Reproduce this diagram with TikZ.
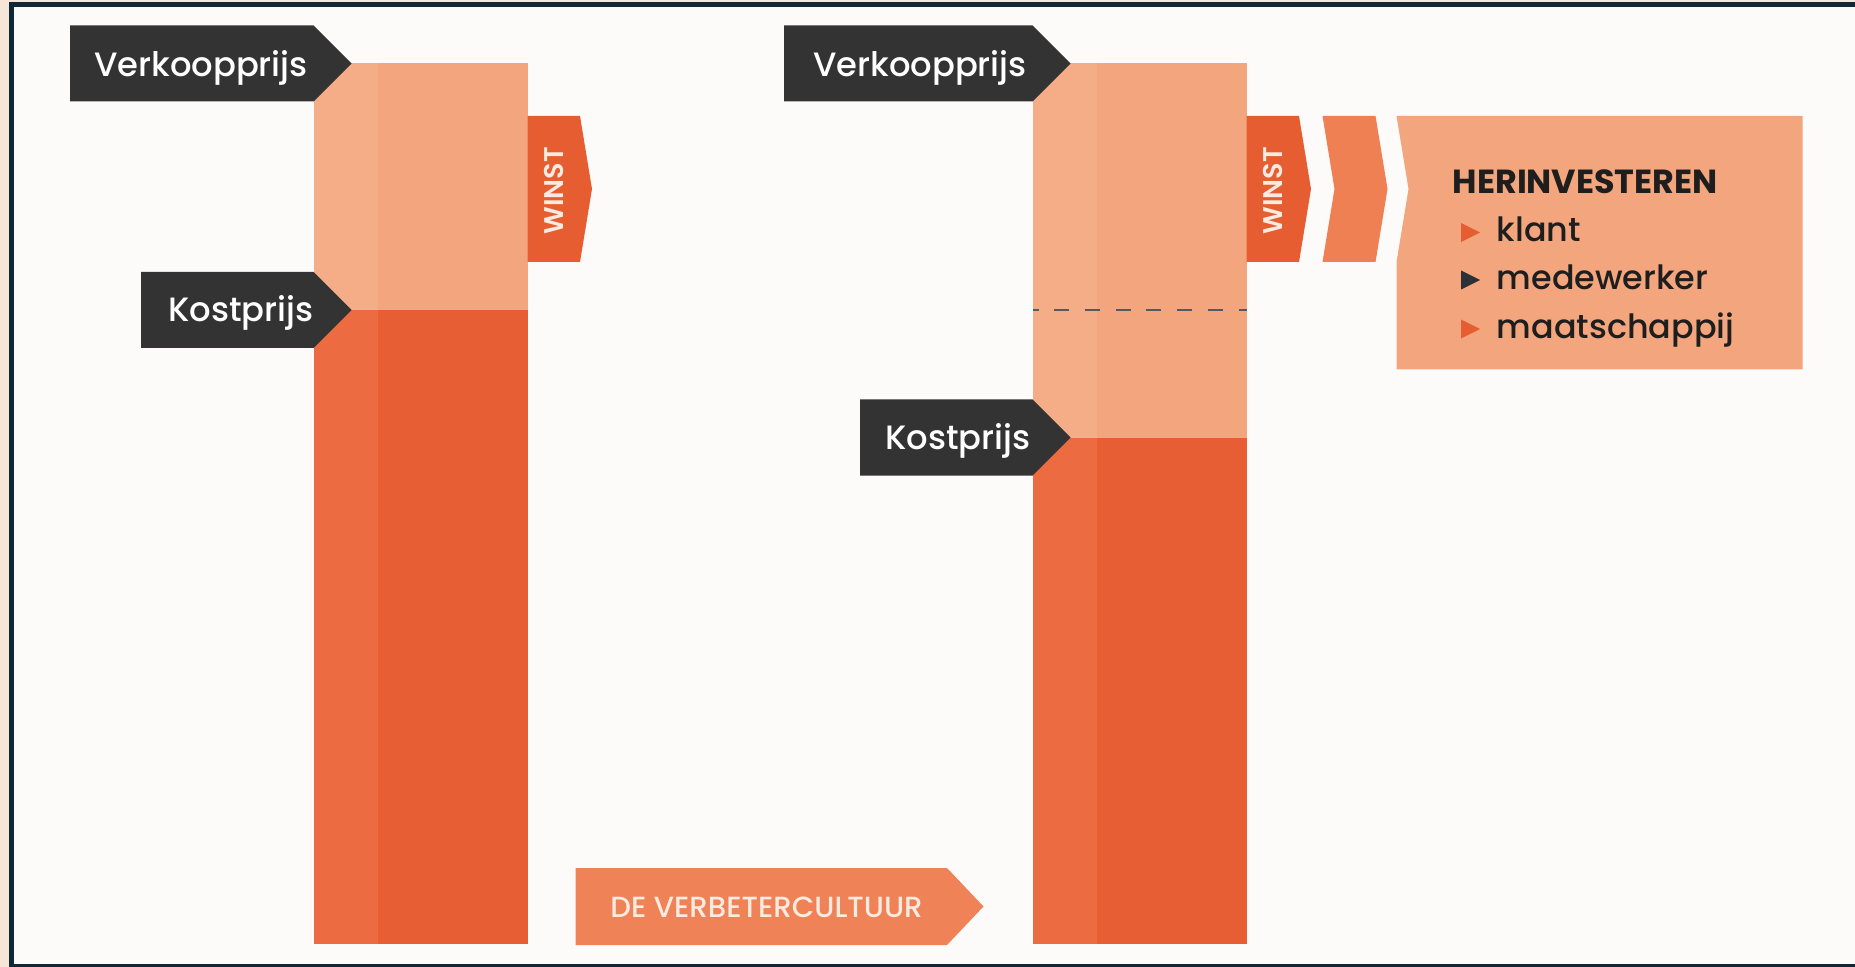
\documentclass[tikz,border=0pt]{standalone}
\usepackage{fontspec}
\setmainfont{Poppins}
\newfontfamily\popmed{Poppins Medium}
\newfontfamily\popsemi{Poppins SemiBold}
\newfontfamily\popbold{Poppins Bold}
\usetikzlibrary{calc}

\definecolor{buiten}{HTML}{F5E6D8}
\definecolor{binnen}{HTML}{FDFBF9}
\definecolor{kader}{HTML}{0E2838}
\definecolor{licht}{HTML}{F3A67D}
\definecolor{lichtstrook}{HTML}{F5AD88}
\definecolor{donker}{HTML}{E85E34}
\definecolor{donkerstrook}{HTML}{EC6B40}
\definecolor{winstrood}{HTML}{E65D32}
\definecolor{midden}{HTML}{EE8053}
\definecolor{pijlkleur}{HTML}{EF8256}
\definecolor{labelgrijs}{HTML}{333333}
\definecolor{tekstzwart}{HTML}{1E1E1E}
\definecolor{bulletgrijs}{HTML}{2D3035}
\definecolor{room}{HTML}{FBEADF}

\tikzset{
  prijstekst/.style={text=white, inner sep=0pt, anchor=base,
    font=\popmed\fontsize{9.6}{11}\selectfont},
  winsttekst/.style={text=room, inner sep=0pt, rotate=90,
    font=\popsemi\fontsize{7.7}{9}\selectfont},
  lijsttekst/.style={text=tekstzwart, inner sep=0pt, anchor=base west,
    font=\popmed\fontsize{9.5}{11}\selectfont},
}
% vlag: linker x, rechter x, midden y
\def\prijsvlag(#1:#2:#3){\fill[labelgrijs] (#1,#3-38) -- (#2,#3-38) -- (#2+38,#3) -- (#2,#3+38) -- (#1,#3+38) -- cycle;}
\def\bullet[#1](#2){\fill[#1] (1461,#2-9.5) -- (1480,#2) -- (1461,#2+9.5) -- cycle;}

\begin{document}
\begin{tikzpicture}[x=0.01cm, y=-0.01cm]
			%%%%% START %%%%%
			\useasboundingbox (0,0) rectangle (1855,967);
			\clip (0,0) rectangle (1855,967);
			
			\fill[buiten] (0,0) rectangle (1855,967);
			\draw[fill=binnen, draw=kader, line width=0.05cm] (11.5,5) rectangle (1880,966.5);
			
			% balk links
			\fill[licht] (313.5,63.5) rectangle (527.5,944);
			\fill[lichtstrook] (313.5,63.5) rectangle (377.5,310);
			\fill[donker] (313.5,310) rectangle (527.5,944);
			\fill[donkerstrook] (313.5,310) rectangle (377.5,944);
			
			% balk rechts
			\fill[licht] (1032.5,63.5) rectangle (1246.5,944);
			\fill[lichtstrook] (1032.5,63.5) rectangle (1096.5,437.5);
			\fill[donker] (1032.5,437.5) rectangle (1246.5,944);
			\fill[donkerstrook] (1032.5,437.5) rectangle (1096.5,944);
			\draw[color=black!65, line width=0.012cm, dash pattern=on 0.15cm off 0.157cm, dash phase=0.09cm] (1032.5,310) -- (1246.5,310);
			
			\prijsvlag(70:313.5:63.5)
			\prijsvlag(141:313.5:310)
			\prijsvlag(784:1032.5:63.5)
			\prijsvlag(860:1032.5:437.5)
			
			\node[prijstekst] (verkoop1) at (201,76.5) {Verkoopprijs};
			\node[prijstekst] (kost1) at (241,322) {Kostprijs};
			\node[prijstekst] (verkoop2) at (920,76.5) {Verkoopprijs};
			\node[prijstekst] (kost2) at (958,449.5) {Kostprijs};
			
			% winst
			\fill[winstrood] (527.5,116) -- (580,116) -- (592,189) -- (580,262) -- (527.5,262) -- cycle;
			\fill[winstrood] (1246.5,116) -- (1299,116) -- (1311,189) -- (1299,262) -- (1246.5,262) -- cycle;
			\node[winsttekst] (winst1) at (553.5,191) {WINST};
			\node[winsttekst] (winst2) at (1272.5,191) {WINST};
			
			\fill[midden] (1322.5,116) -- (1375.5,116) -- (1387.5,189) -- (1375.5,262) -- (1322.5,262) -- (1334.5,189) -- cycle;
			\fill[licht] (1396.5,116) -- (1802.5,116) -- (1802.5,369.5) -- (1396.5,369.5) -- (1396.5,262) -- (1408.5,189) -- cycle;
			
			\node[inner sep=0pt, anchor=base west, text=tekstzwart, font=\popbold\fontsize{9.5}{11}\selectfont] (herinv) at (1452,194) {HERINVESTEREN};
			\bullet[winstrood](232.5)
			\bullet[bulletgrijs](280)
			\bullet[winstrood](329)
			\node[lijsttekst] (klant) at (1496,242) {klant};
			\node[lijsttekst] (medewerker) at (1496,290) {medewerker};
			\node[lijsttekst] (maatschappij) at (1496,338.5) {maatschappij};
			
			% verbetercultuur
			\fill[pijlkleur] (575.5,868) -- (947,868) -- (983.5,906.5) -- (947,945) -- (575.5,945) -- cycle;
			\node[inner sep=0pt, anchor=base, text=room, font=\popmed\fontsize{8.3}{10}\selectfont] (verbeter) at (766.5,917) {DE VERBETERCULTUUR};
			
			%%%%% END %%%%%
\end{tikzpicture}
\end{document}
